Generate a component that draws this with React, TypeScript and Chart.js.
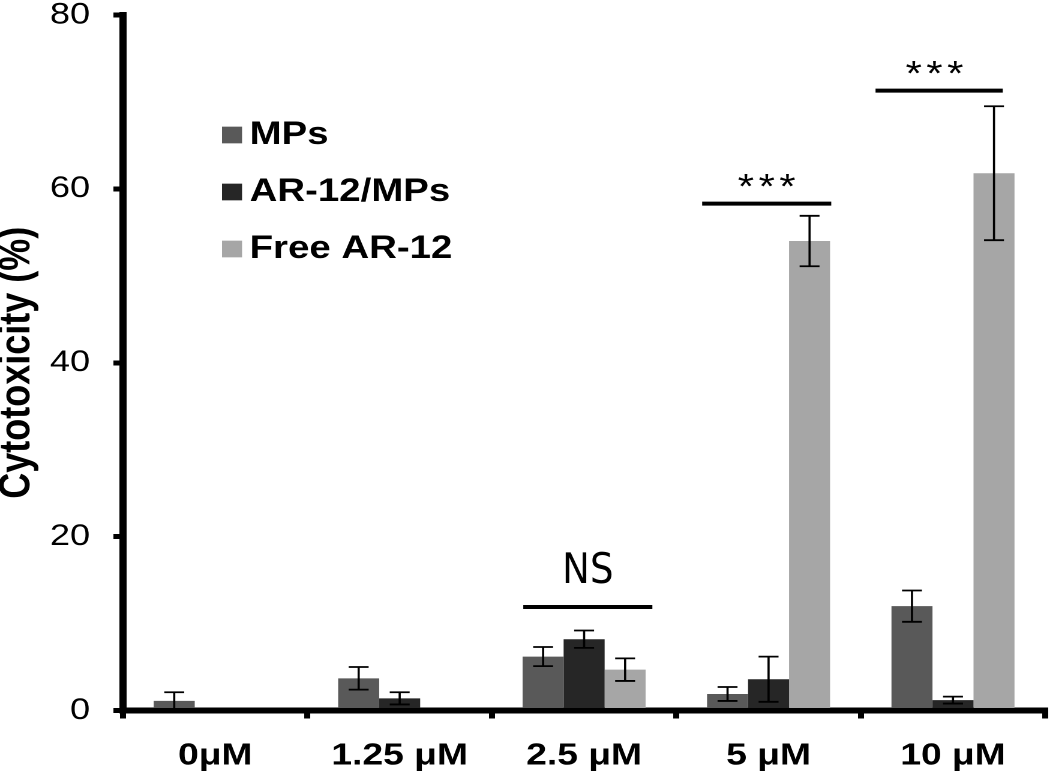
import React, { useEffect, useRef } from 'react';
import { Chart, registerables } from 'chart.js';

Chart.register(...registerables);

// ---- data ----
const categories = ['0μM', '1.25 μM', '2.5 μM', '5 μM', '10 μM'];
const seriesNames = ['MPs', 'AR-12/MPs', 'Free AR-12'];
const mpsValues = [1.1, 3.7, 6.2, 1.9, 12.0];
const mpsErrors = [1.0, 1.3, 1.1, 0.8, 1.8];
const arMpsValues = [0, 1.4, 8.2, 3.6, 1.2];
const arMpsErrors = [0, 0.7, 1.0, 2.6, 0.4];
const freeValues = [0, 0, 4.7, 54.0, 61.8];
const freeErrors = [0, 0, 1.3, 2.9, 7.7];
const yTicks = [0, 20, 40, 60, 80];
const sigCategories = ['2.5 μM', '5 μM', '10 μM'];
const sigLevels = [11.9, 58.3, 71.3];
const sigLabels = ['NS', '* * *', '* * *'];

// ---- layout / style (not data) ----
const LOGICAL_W = 875; // drawn at 875 and shown 1050 wide (source is horizontally stretched)
const LOGICAL_H = 777;
const SIG_SPAN = [
  [-0.33, 0.37],
  [-0.36, 0.34],
  [-0.42, 0.27],
];
const SIG_TEXT_SHIFT = [0.02, -0.02, -0.11];
const COLORS = ['#595959', '#262626', '#a6a6a6'];
const FONT = "'Liberation Sans', Arial, sans-serif";
const NARROW_FONT = "'Liberation Sans Narrow', 'DejaVu Sans Condensed', 'Liberation Sans', sans-serif";

const errorBarPlugin = {
  id: 'errorBars',
  afterDatasetsDraw(chart: any) {
    const ctx = chart.ctx;
    const y = chart.scales.y;
    chart.data.datasets.forEach((ds: any, i: number) => {
      const meta = chart.getDatasetMeta(i);
      meta.data.forEach((bar: any, j: number) => {
        const e = ds.errors[j];
        if (!e) return;
        const v = ds.data[j];
        const top = y.getPixelForValue(v + e);
        const bot = y.getPixelForValue(v - e);
        const cap = 8.3;
        ctx.save();
        ctx.strokeStyle = '#000';
        ctx.lineWidth = 1.8;
        ctx.beginPath();
        ctx.moveTo(bar.x, top);
        ctx.lineTo(bar.x, bot);
        ctx.moveTo(bar.x - cap, top);
        ctx.lineTo(bar.x + cap, top);
        ctx.moveTo(bar.x - cap, bot);
        ctx.lineTo(bar.x + cap, bot);
        ctx.stroke();
        ctx.restore();
      });
    });
  },
};

const annotationPlugin = {
  id: 'sigMarks',
  afterDraw(chart: any) {
    const ctx = chart.ctx;
    const xs = chart.scales.x;
    const ys = chart.scales.y;
    const cw = xs.width / categories.length;
    sigCategories.forEach((cat, k) => {
      const ci = categories.indexOf(cat);
      const cx = xs.getPixelForValue(ci);
      const x1 = cx + SIG_SPAN[k][0] * cw;
      const x2 = cx + SIG_SPAN[k][1] * cw;
      const ly = ys.getPixelForValue(sigLevels[k]);
      ctx.save();
      ctx.strokeStyle = '#000';
      ctx.lineWidth = 4;
      ctx.beginPath();
      ctx.moveTo(x1, ly);
      ctx.lineTo(x2, ly);
      ctx.stroke();
      const tx = cx + SIG_TEXT_SHIFT[k] * cw;
      ctx.fillStyle = '#000';
      ctx.textAlign = 'center';
      ctx.textBaseline = 'alphabetic';
      if (sigLabels[k] === 'NS') {
        ctx.translate(tx, ly - 24);
        ctx.scale(0.82, 1);
        ctx.font = `42px ${NARROW_FONT}`;
        ctx.fillText(sigLabels[k], 0, 0);
      } else {
        ctx.font = `35px ${FONT}`;
        try {
          (ctx as any).letterSpacing = '-3px';
        } catch (e) {}
        ctx.fillText(sigLabels[k], tx, ly - 5);
      }
      ctx.restore();
    });
  },
};

const legendPlugin = {
  id: 'manualLegend',
  afterDraw(chart: any) {
    const ctx = chart.ctx;
    const area = chart.chartArea;
    chart.data.datasets.forEach((ds: any, i: number) => {
      const cy = area.top + 120 + i * 57;
      ctx.save();
      ctx.fillStyle = ds.backgroundColor;
      ctx.fillRect(area.left + 82.5, cy - 8.35, 16.7, 16.7);
      ctx.fillStyle = '#000';
      ctx.font = `bold 32px ${FONT}`;
      ctx.textAlign = 'left';
      ctx.textBaseline = 'middle';
      ctx.fillText(ds.label, area.left + 105.5, cy);
      ctx.restore();
    });
  },
};

export default function App() {
  const ref = useRef<HTMLCanvasElement>(null);

  useEffect(() => {
    const canvas = ref.current;
    if (!canvas) return;
    const gridOpts = {
      display: true,
      drawOnChartArea: false,
      drawTicks: true,
      tickLength: 8,
      tickWidth: 5,
      tickColor: '#000',
      lineWidth: 5,
      color: '#000',
    };
    const chart = new Chart(canvas, {
      type: 'bar',
      data: {
        labels: categories,
        datasets: [
          { label: seriesNames[0], data: mpsValues, errors: mpsErrors, backgroundColor: COLORS[0] } as any,
          { label: seriesNames[1], data: arMpsValues, errors: arMpsErrors, backgroundColor: COLORS[1] } as any,
          { label: seriesNames[2], data: freeValues, errors: freeErrors, backgroundColor: COLORS[2] } as any,
        ],
      },
      options: {
        responsive: false,
        animation: false,
        devicePixelRatio: 2,
        layout: { padding: { top: 0, right: 4, bottom: 0, left: 0 } },
        datasets: { bar: { categoryPercentage: 0.667, barPercentage: 1, borderWidth: 0 } },
        plugins: {
          legend: { display: false },
          tooltip: { enabled: false },
          title: { display: false },
        },
        scales: {
          x: {
            type: 'category',
            offset: true,
            grid: { ...gridOpts, offset: true },
            border: { display: true, color: '#000', width: 6 },
            ticks: {
              color: '#000',
              font: { family: FONT, size: 31, weight: 'bold' },
              padding: 19,
              autoSkip: false,
              maxRotation: 0,
              minRotation: 0,
            },
            afterFit(scale: any) {
              scale.height = 66.5;
            },
          },
          y: {
            min: 0,
            max: 80,
            afterBuildTicks(scale: any) {
              scale.ticks = yTicks.map((v) => ({ value: v }));
            },
            grid: gridOpts,
            border: { display: true, color: '#000', width: 6 },
            ticks: {
              color: '#000',
              font: { family: FONT, size: 30, lineHeight: 1 },
              padding: 19.5,
            },
            title: {
              display: true,
              text: 'Cytotoxicity (%)',
              color: '#000',
              font: { family: FONT, size: 36, weight: 'bold', lineHeight: 0.8 },
              padding: 0,
            },
            afterFit(scale: any) {
              scale.width = 102.5;
              scale.paddingTop = 15;
              scale.paddingBottom = 15;
            },
          },
        },
      } as any,
      plugins: [errorBarPlugin, annotationPlugin, legendPlugin],
    });
    return () => chart.destroy();
  }, []);

  return (
    <div style={{ position: 'fixed', left: 0, top: 0, width: 1050, height: 777, background: '#fff' }}>
      <canvas
        ref={ref}
        width={LOGICAL_W}
        height={LOGICAL_H}
        style={{ width: '1050px', height: '777px', display: 'block' }}
      />
    </div>
  );
}
